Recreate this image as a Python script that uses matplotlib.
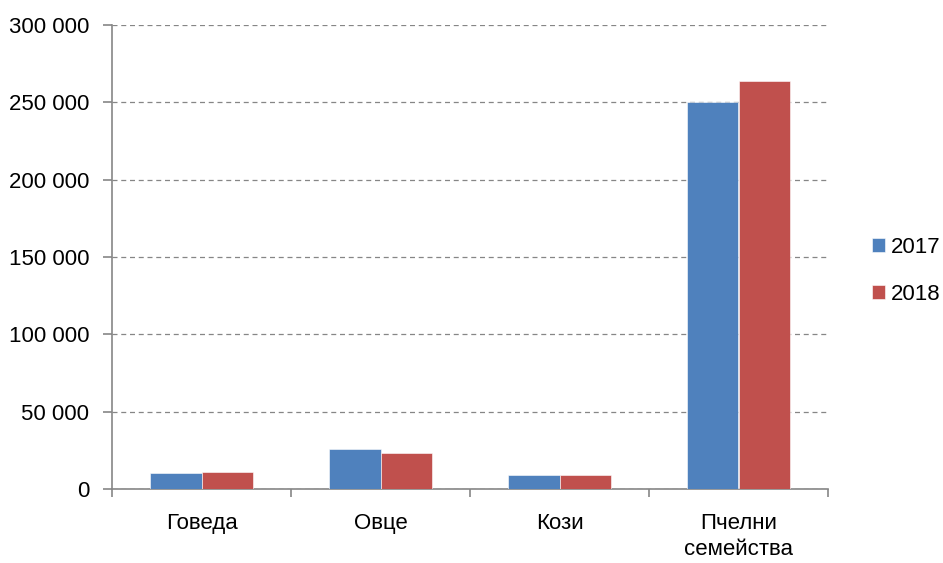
import matplotlib.pyplot as plt
import numpy as np
from matplotlib import font_manager
from matplotlib.ticker import FuncFormatter

categories = ["Говеда", "Овце", "Кози", "Пчелни\nсемейства"]
years = ["2017", "2018"]
values_2017 = [10200, 25900, 8900, 250500]
values_2018 = [11200, 23300, 9100, 263900]
colors = ["#4F81BD", "#C0504D"]

# the source chart uses a condensed face; take the narrow one if it is here
names = {f.name for f in font_manager.fontManager.ttflist}
if "Liberation Sans Narrow" in names:
    plt.rcParams['font.family'] = ['Liberation Sans Narrow', 'DejaVu Sans']
    fs = 19
else:
    plt.rcParams['font.family'] = ['Liberation Sans', 'DejaVu Sans']
    fs = 16

fig = plt.figure(figsize=(9.43, 5.63), dpi=100)
ax = fig.add_axes([112/943, 1 - 489/563, (828-112)/943, (489-25)/563])

x = np.arange(len(categories))
w = 0.285
for i, (vals, lab) in enumerate(zip([values_2017, values_2018], years)):
    ax.bar(x + (i - 0.5) * w, vals, width=w, color=colors[i], label=lab,
           edgecolor="white", linewidth=0.4, zorder=3)

ax.set_xlim(-0.5, 3.5)
ax.set_ylim(0, 300000)
ax.set_yticks(np.arange(0, 300001, 50000))
ax.yaxis.set_major_formatter(FuncFormatter(lambda v, p: f"{int(v):,}".replace(",", " ")))
ax.set_xticks(x)
ax.set_xticklabels(categories, linespacing=1.35)
ax.set_xticks(np.arange(-0.5, 3.6, 1), minor=True)
ax.tick_params(axis="x", which="major", length=0, pad=17, labelsize=fs)
ax.tick_params(axis="x", which="minor", length=6, color="#868686", width=1.2)
ax.tick_params(axis="y", length=6.5, color="#868686", width=1.2, labelsize=fs, pad=10)

ax.grid(axis="y", linestyle=(0, (4, 3)), color="#868686", linewidth=0.9, zorder=0)
for s in ["top", "right"]:
    ax.spines[s].set_visible(False)
for s in ["left", "bottom"]:
    ax.spines[s].set_color("#868686")
    ax.spines[s].set_linewidth(1.2)

fig.legend(*ax.get_legend_handles_labels(), loc="center left",
           bbox_to_anchor=(872/943, 1 - 271/563), bbox_transform=fig.transFigure,
           frameon=False, fontsize=fs, borderpad=0, borderaxespad=0,
           handlelength=0.6, handleheight=0.55, handletextpad=0.25,
           labelspacing=1.17)

fig.savefig("out.png", dpi=100)
